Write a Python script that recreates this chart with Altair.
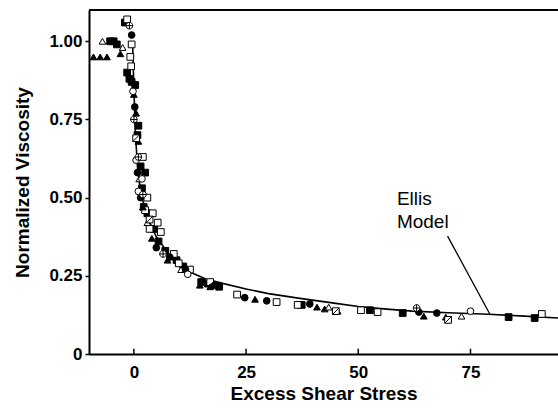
import altair as alt
import pandas as pd

# ---- data ----
fsq_x = [-2.0, -4.5, -3.8, -5.3, -1.5, -1.0, 0.3, -0.5, 1.0, 0.8, 2.5, 1.5, 1.8, 2.2, 3.0, 4.5, 5.5, 7.0, 9.5, 11.0, 15.0, 16.5, 19.0, 37.4, 52.6, 59.9, 83.5, 89.3]
fsq_y = [1.06, 1.00, 0.99, 1.00, 0.90, 0.88, 0.86, 0.87, 0.73, 0.70, 0.58, 0.60, 0.53, 0.47, 0.45, 0.40, 0.36, 0.33, 0.30, 0.28, 0.23, 0.225, 0.215, 0.157, 0.14, 0.131, 0.118, 0.115]

osq_x = [-1.5, -0.5, -0.8, -0.6, 2.0, 3.0, 2.5, 4.2, 5.3, 6.0, 3.5, 8.9, 10.0, 12.5, 17.0, 23.0, 31.8, 36.5, 50.6, 54.3, 90.9]
osq_y = [1.07, 0.99, 0.95, 0.92, 0.63, 0.50, 0.46, 0.45, 0.42, 0.39, 0.40, 0.32, 0.29, 0.27, 0.23, 0.19, 0.166, 0.157, 0.14, 0.134, 0.128]

ftr_x = [-9.0, -7.5, -6.0, -3.0, 0.0, 0.5, 1.0, 1.5, 2.0, 4.0, 7.5, 14.7, 17.0, 27.0, 40.8, 42.5, 45.4, 64.6, 69.5]
ftr_y = [0.95, 0.95, 0.95, 0.96, 0.83, 0.77, 0.68, 0.52, 0.47, 0.37, 0.30, 0.22, 0.215, 0.175, 0.15, 0.144, 0.137, 0.121, 0.118]

otr_x = [-7.0, -2.5, 1.2, 3.0, 10.5, 43.4, 73.0]
otr_y = [1.00, 0.98, 0.56, 0.42, 0.27, 0.15, 0.121]

fci_x = [-0.5, 0.2, 0.8, 1.5, 5.0, 8.0, 11.5, 18.0, 24.7, 29.6, 39.2, 63.5, 67.5]
fci_y = [1.02, 0.79, 0.58, 0.50, 0.34, 0.31, 0.27, 0.22, 0.18, 0.17, 0.16, 0.134, 0.131]

oci_x = [-0.2, 0.5, 1.8, 1.0, 12.0, 75.0]
oci_y = [0.84, 0.62, 0.56, 0.52, 0.255, 0.137]

xci_x = [-1.0, 0.0, 1.0, 2.0, 6.5, 63.0]
xci_y = [1.05, 0.75, 0.63, 0.51, 0.32, 0.147]

xsq_x = [0.5, 3.5, 45.0, 70.0]
xsq_y = [0.69, 0.43, 0.137, 0.109]

# Ellis model curve
curve_x = [-0.3, 0.0, 0.3, 0.7, 1.2, 2.0, 3.0, 4.0, 5.0, 6.5, 8.0, 10.0, 12.5, 16.0, 20.0, 25.0, 30.0, 37.0, 45.0, 50.0, 55.0, 62.0, 70.0, 79.0, 87.0, 94.5]
curve_y = [1.0, 0.85, 0.72, 0.62, 0.55, 0.49, 0.44, 0.405, 0.375, 0.345, 0.31, 0.285, 0.262, 0.24, 0.225, 0.208, 0.193, 0.178, 0.162, 0.152, 0.145, 0.137, 0.132, 0.127, 0.121, 0.115]

x_ticks = [0, 25, 50, 75]
y_ticks = [0, 0.25, 0.5, 0.75, 1.0]

ann_text = ["Ellis", "Model"]
ann_x = [58.6, 58.6]
ann_y = [0.476, 0.403]
leader_x = [69.9, 79.3]
leader_y = [0.377, 0.128]

# ---- build tables ----
crossed_circle = "M -1 0 A 1 1 0 1 1 1 0 A 1 1 0 1 1 -1 0 Z M -1 0 L 1 0 M 0 -1 L 0 1"
crossed_square = "M -1 -1 L 1 -1 L 1 1 L -1 1 Z M -1 1 L 1 -1"
series_defs = [
    ("fsq", fsq_x, fsq_y, "square", "black"),
    ("osq", osq_x, osq_y, "square", "white"),
    ("ftr", ftr_x, ftr_y, "triangle-up", "black"),
    ("otr", otr_x, otr_y, "triangle-up", "white"),
    ("fci", fci_x, fci_y, "circle", "black"),
    ("oci", oci_x, oci_y, "circle", "white"),
    ("xci", xci_x, xci_y, crossed_circle, "white"),
    ("xsq", xsq_x, xsq_y, crossed_square, "white"),
]
rows = []
for i, (name, xs, ys, _, _) in enumerate(series_defs):
    for x, y in zip(xs, ys):
        rows.append({"series": name, "x": x, "y": y, "ord": i})
pts = pd.DataFrame(rows)
names = [s[0] for s in series_defs]
shapes = [s[3] for s in series_defs]
fills = [s[4] for s in series_defs]

curve = pd.DataFrame({"x": curve_x, "y": curve_y})
ticks_df = pd.DataFrame({"x": x_ticks})
ann = pd.DataFrame({"x": ann_x, "y": ann_y, "t": ann_text})
leader = pd.DataFrame({"x": leader_x, "y": leader_y})

FONT = "Liberation Sans"
xs = alt.Scale(domain=[-10, 94.5], nice=False, zero=False)
ys = alt.Scale(domain=[0, 1.1], nice=False)

x_axis = alt.Axis(values=x_ticks, ticks=False, labelPadding=10, title="Excess Shear Stress",
                  titlePadding=4, grid=False)
y_axis = alt.Axis(values=y_ticks, tickSize=4, labelPadding=3, title="Normalized Viscosity",
                  titlePadding=16, grid=False,
                  labelExpr="datum.value == 0 ? '0' : format(datum.value, '.2f')")

points = alt.Chart(pts).mark_point(filled=True, stroke="black", strokeWidth=1, opacity=1, size=45, clip=True).encode(
    x=alt.X("x:Q", scale=xs, axis=x_axis),
    y=alt.Y("y:Q", scale=ys, axis=y_axis),
    shape=alt.Shape("series:N", scale=alt.Scale(domain=names, range=shapes), legend=None),
    fill=alt.Fill("series:N", scale=alt.Scale(domain=names, range=fills), legend=None),
    order="ord:Q",
)

line = alt.Chart(curve).mark_line(color="black", strokeWidth=1.6, clip=True).encode(
    x=alt.X("x:Q", scale=xs), y=alt.Y("y:Q", scale=ys))

xticks = alt.Chart(ticks_df).mark_rule(color="black", strokeWidth=1.5).encode(
    x=alt.X("x:Q", scale=xs), y=alt.datum(0), y2=alt.datum(0.017))

top = alt.Chart(ticks_df).mark_rule(color="black", strokeWidth=2).encode(y=alt.datum(1.1))

text = alt.Chart(ann).mark_text(align="left", baseline="alphabetic", font=FONT, fontSize=19, color="black").encode(
    x=alt.X("x:Q", scale=xs), y=alt.Y("y:Q", scale=ys), text="t:N")

lead = alt.Chart(leader).mark_line(color="black", strokeWidth=1.3).encode(
    x=alt.X("x:Q", scale=xs), y=alt.Y("y:Q", scale=ys))

chart = alt.layer(line, points, xticks, top, lead, text).properties(
    width=469, height=344,
    autosize=alt.AutoSizeParams(type="none"),
    padding={"left": 89, "top": 10, "right": 0, "bottom": 62},
).configure_view(stroke=None).configure_axis(
    domainColor="black", domainWidth=2, tickColor="black", tickWidth=1.5,
    labelFont=FONT, labelFontWeight="bold", labelFontSize=17, labelColor="black",
    titleFont=FONT, titleFontWeight="bold", titleFontSize=19, titleColor="black",
)

chart.save("out.html", embed_options={"renderer": "svg", "actions": False})
